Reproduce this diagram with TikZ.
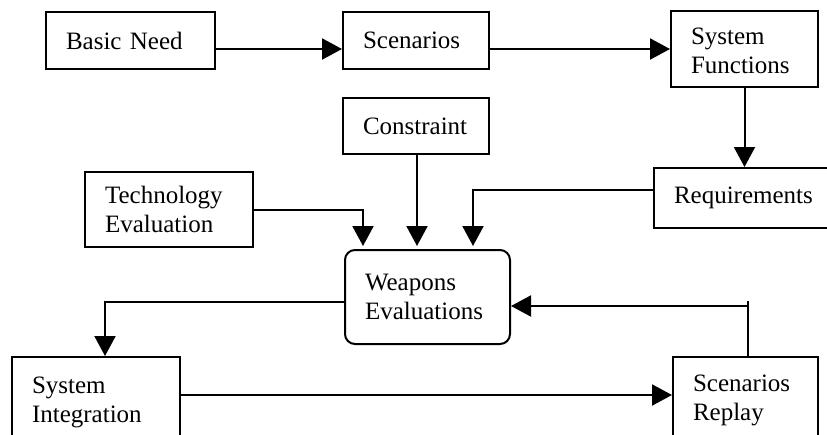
\documentclass[tikz,border=0pt]{standalone}
\usepackage{fontspec}
\setmainfont{Liberation Serif}
\usetikzlibrary{arrows.meta}
\tikzset{
  box/.style={draw, line width=2pt, inner xsep=20pt, inner ysep=0pt, align=left,
    font=\fontsize{25}{29}\selectfont},
  conn/.style={line width=2pt},
  arr/.style={conn, -{Triangle[length=20pt,width=21pt]}}
}
\begin{document}
\begin{tikzpicture}[x=1pt,y=-1pt]
\useasboundingbox (0,0) rectangle (827,434);
\clip (0,0) rectangle (827,434);
\node[box, text width=129pt, minimum height=57pt] (need) at (130.5,40.5) {Basic Need};
\node[box, text width=106pt, minimum height=57pt] (scen) at (416,40.5) {Scenarios};
\node[box, text width=107pt, minimum height=76pt] (sysf) at (744.5,49) {\rule{0pt}{21pt}System\\Functions};
\node[box, text width=106pt, minimum height=56pt] (cons) at (416,126) {Constraint};
\node[box, text width=128pt, minimum height=75pt] (tech) at (169,209.5) {Technology\\Evaluation};
\node[box, text width=160pt, minimum height=60pt] (req) at (754,198) {Requirements};
\node[box, rounded corners=10pt, text width=125pt, minimum height=94pt] (weap) at (427.5,297) {Weapons\\Evaluations};
\node[box, text width=128pt, minimum height=90pt] (si) at (96,402) {System\\Integration};
\node[box, text width=105pt, minimum height=86pt] (sr) at (745.5,400) {Scenarios\\Replay};

\draw[arr] ([yshift=-8.5pt]need.east) -- ([yshift=-8.5pt]scen.west);
\draw[arr] (sysf.west -| scen.east) -- (sysf.west);
\draw[arr] (sysf.south) -- (sysf.south |- req.north);
\draw[arr, shorten >=3pt] ([xshift=1pt]cons.south) -- ([xshift=1pt]cons.south |- weap.north);
\draw[arr, shorten >=3pt] (tech.east) -| ([xshift=-64.5pt]weap.north);
\draw[arr, shorten >=3pt] ([yshift=8pt]req.west) -| ([xshift=45.5pt]weap.north);
\draw[arr] ([yshift=-5pt]weap.west) -| ([xshift=9pt]si.north);
\draw[arr] ([yshift=7pt]si.east) -- ([yshift=7pt]si.east -| sr.west);
\draw[conn] ([xshift=2.5pt]sr.north) -- ++(0,-55);
\draw[arr] ([xshift=2.5pt]sr.north) |- ([yshift=-9pt]weap.east);
\end{tikzpicture}
\end{document}
